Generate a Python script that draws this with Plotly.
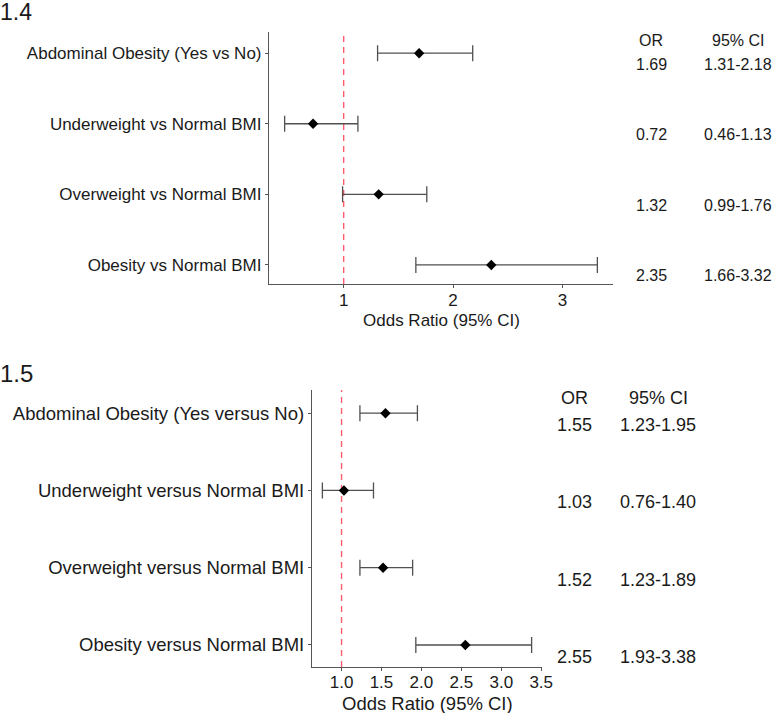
import plotly.graph_objects as go

# ---- data ----
labels_14 = ["Abdominal Obesity (Yes vs No)", "Underweight vs Normal BMI",
             "Overweight vs Normal BMI", "Obesity vs Normal BMI"]
or_14 = [1.69, 0.72, 1.32, 2.35]
lo_14 = [1.31, 0.46, 0.99, 1.66]
hi_14 = [2.18, 1.13, 1.76, 3.32]
or_txt_14 = ["1.69", "0.72", "1.32", "2.35"]
ci_txt_14 = ["1.31-2.18", "0.46-1.13", "0.99-1.76", "1.66-3.32"]

labels_15 = ["Abdominal Obesity (Yes versus No)", "Underweight versus Normal BMI",
             "Overweight versus Normal BMI", "Obesity versus Normal BMI"]
or_15 = [1.55, 1.03, 1.52, 2.55]
lo_15 = [1.23, 0.76, 1.23, 1.93]
hi_15 = [1.95, 1.40, 1.89, 3.38]
or_txt_15 = ["1.55", "1.03", "1.52", "2.55"]
ci_txt_15 = ["1.23-1.95", "0.76-1.40", "1.23-1.89", "1.93-3.38"]

ticks_14 = [1, 2, 3]
ticks_15 = [1.0, 1.5, 2.0, 2.5, 3.0, 3.5]
tick_txt_15 = ["1.0", "1.5", "2.0", "2.5", "3.0", "3.5"]
null_or = 1

W, H = 777, 713
FONT = "Liberation Sans, Arial, sans-serif"
TXT = "#1a1a1a"
AX = "#555555"

rows = [4, 3, 2, 1]

fig = go.Figure()

def add_panel(xa, ya, ors, los, his):
    fig.add_trace(go.Scatter(
        x=ors, y=rows, mode="markers", xaxis=xa, yaxis=ya,
        marker=dict(symbol="diamond", size=8, color="black"),
        error_x=dict(type="data", symmetric=False,
                     array=[h - o for h, o in zip(his, ors)],
                     arrayminus=[o - l for o, l in zip(ors, los)],
                     color="#505050", thickness=1.3, width=8),
        showlegend=False, hoverinfo="skip"))

add_panel("x", "y", or_14, lo_14, hi_14)
add_panel("x2", "y2", or_15, lo_15, hi_15)

def px(v):
    return v / W

def py(v):
    return 1 - v / H

common = dict(showline=True, linecolor=AX, linewidth=1.2, ticks="outside",
              ticklen=3, tickcolor=AX, showgrid=False, zeroline=False,
              automargin=False)

fig.update_layout(
    width=W, height=H, margin=dict(l=0, r=0, t=0, b=0),
    paper_bgcolor="white", plot_bgcolor="white",
    font=dict(family=FONT, color=TXT),
    xaxis=dict(**common, domain=[px(269), px(613)], range=[0.317, 3.463],
               tickvals=ticks_14, ticktext=[str(t) for t in ticks_14],
               tickfont=dict(size=17, color=TXT), anchor="y",
               ticklabelstandoff=-3),
    yaxis=dict(**common, domain=[py(284), py(32)], range=[0.73, 4.3],
               tickvals=rows, ticktext=labels_14,
               tickfont=dict(size=17, color=TXT), anchor="x"),
    xaxis2=dict(**common, domain=[px(312), px(542)], range=[0.63, 3.51],
                tickvals=ticks_15, ticktext=tick_txt_15,
                tickfont=dict(size=17, color=TXT), anchor="y2",
                ticklabelstandoff=-4),
    yaxis2=dict(**common, domain=[py(667), py(390)], range=[0.715, 4.3],
                tickvals=rows, ticktext=labels_15,
                tickfont=dict(size=18.5, color=TXT), anchor="x2"),
)

# reference lines at OR = 1
for xr, yr in [("x", "y domain"), ("x2", "y2 domain")]:
    fig.add_shape(type="line", xref=xr, yref=yr, x0=null_or, x1=null_or,
                  y0=0, y1=1, layer="below",
                  line=dict(color="#FF5C6C", width=1.4, dash="6px,5px"))

ann = []

def note(text, x, y, xref, yref, size, xanchor="center", yanchor="middle", yshift=0):
    ann.append(dict(text=text, x=x, y=y, xref=xref, yref=yref,
                    xanchor=xanchor, yanchor=yanchor, yshift=yshift,
                    showarrow=False, font=dict(size=size, color=TXT)))

# panel titles
note("1.4", -0.002, py(-3), "paper", "paper", 23, xanchor="left", yanchor="top")
note("1.5", -0.002, py(373), "paper", "paper", 24, xanchor="left")
# axis titles
note("Odds Ratio (95% CI)", 0.5, py(320), "x domain", "paper", 17)
note("Odds Ratio (95% CI)", 0.5, py(703), "x2 domain", "paper", 18.5)

# tables
def table(yref, xor, xci, ors, cis, size, hshift, vshift):
    note("OR", px(xor), rows[0], "paper", yref, size, yshift=hshift)
    note("95% CI", px(xci), rows[0], "paper", yref, size, yshift=hshift)
    for r, o, c in zip(rows, ors, cis):
        note(o, px(xor), r, "paper", yref, size, yshift=vshift)
        note(c, px(xci), r, "paper", yref, size, yshift=vshift)

table("y", 651, 738, or_txt_14, ci_txt_14, 16, 13, -11)
table("y2", 574, 658, or_txt_15, ci_txt_15, 18, 15, -12)

fig.update_layout(annotations=ann)
fig.write_html("out.html", config={"displayModeBar": False},
               post_script="document.body.style.margin='0';")
